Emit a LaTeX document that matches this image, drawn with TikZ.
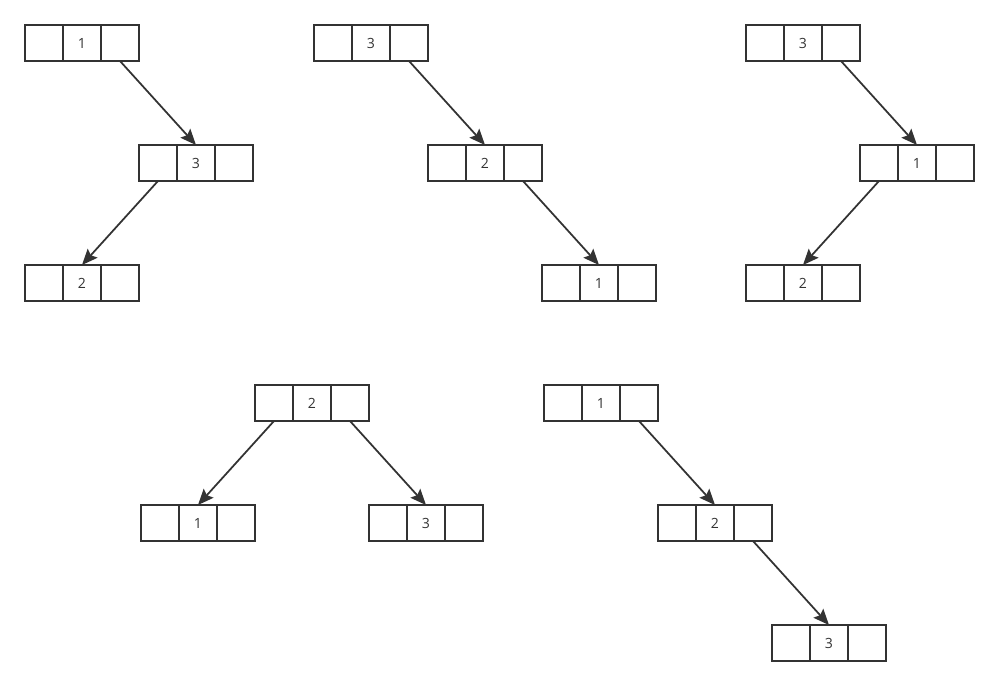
\documentclass[tikz,border=0pt]{standalone}
\usepackage{fontspec}
\setmainfont{Open Sans}
\usetikzlibrary{positioning,arrows.meta}
\definecolor{ink}{HTML}{333333}
\tikzset{
  cell/.style={draw=ink, line width=1pt, minimum width=0.76cm, minimum height=0.72cm,
    inner sep=0pt, outer sep=0pt, text=ink, font=\fontsize{8}{9}\selectfont},
  link/.style={draw=ink, line width=1pt, -{Stealth[length=9pt,width=7.5pt,inset=1.5pt]}}
}
\begin{document}
\begin{tikzpicture}[x=0.02cm, y=-0.02cm]
\useasboundingbox (0,0) rectangle (999,686);

% boxes: name / left / top / value
\foreach \n/\x/\y/\v in {a1/25/25/1, a2/139/145/3, a3/25/265/2,
                         b1/314/25/3, b2/428/145/2, b3/542/265/1,
                         c1/746/25/3, c2/860/145/1, c3/746/265/2,
                         d1/255/385/2, d2/141/505/1, d3/369/505/3,
                         e1/544/385/1, e2/658/505/2, e3/772/625/3}{
    \node[cell, anchor=north west] (\n-l) at (\x,\y) {};
    \node[cell, right=0pt of \n-l] (\n-m) {\v};
    \node[cell, right=0pt of \n-m] (\n-r) {};
}

\draw[link] (a1-r.south) -- (a2-m.north);
\draw[link] (a2-l.south) -- (a3-m.north);

\draw[link] (b1-r.south) -- (b2-m.north);
\draw[link] (b2-r.south) -- (b3-m.north);

\draw[link] (c1-r.south) -- (c2-m.north);
\draw[link] (c2-l.south) -- (c3-m.north);

\draw[link] (d1-l.south) -- (d2-m.north);
\draw[link] (d1-r.south) -- (d3-m.north);

\draw[link] (e1-r.south) -- (e2-m.north);
\draw[link] (e2-r.south) -- (e3-m.north);
\end{tikzpicture}
\end{document}
